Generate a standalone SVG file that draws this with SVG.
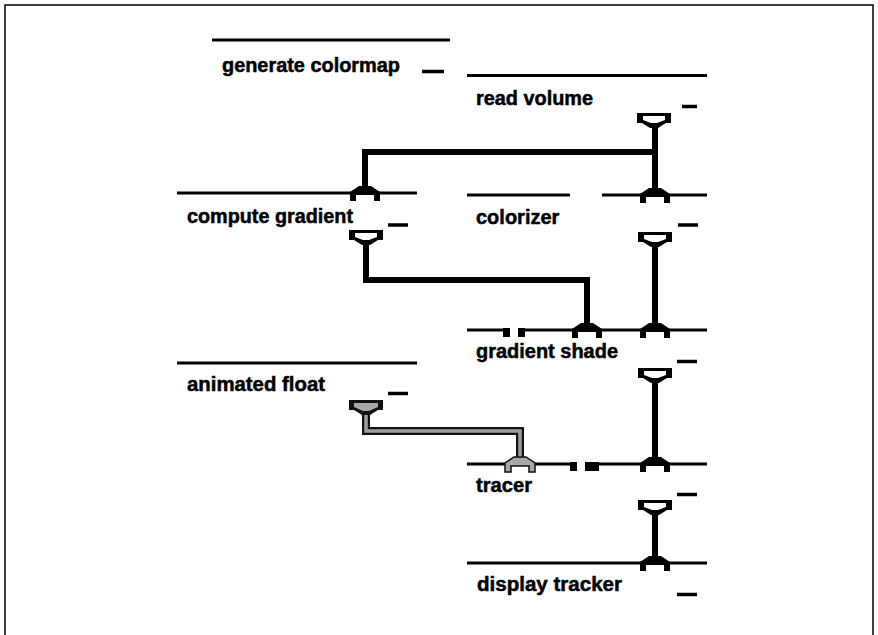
<svg xmlns="http://www.w3.org/2000/svg" xmlns:xlink="http://www.w3.org/1999/xlink" width="878" height="635" viewBox="0 0 878 635">
<style>
.bg{fill:#ffffff}
.frame{fill:none;stroke:#000;stroke-width:1.5}
.nl{stroke:#000;stroke-width:3;fill:none}
.lbl{font-family:"Liberation Sans",Arial,sans-serif;font-weight:bold;font-size:20px;fill:#000;stroke:#000;stroke-width:0.5}
.dash{stroke:#000;stroke-width:3.5}
.w{fill:none;stroke:#000;stroke-width:6}
.wg{fill:none;stroke:#111;stroke-width:8}
.wgi{fill:none;stroke:#a0a0a0;stroke-width:3.5}
.blk{fill:#000}
</style>
<defs>
<g id="inport">
<path class="blk" d="M-15,8 V-1 L-6,-7 H6 L15,-1 V8 H9 V2 H-9 V8 Z"/>
</g>
<g id="inportg">
<path d="M-15,8 V-1 L-6,-7 H6 L15,-1 V8 H9 V2 H-9 V8 Z" fill="#a8a8a8" stroke="#111" stroke-width="1.5"/>
</g>
<g id="outport">
<path class="blk" d="M-17,0 H17 V10 H12 L4,15 H-4 L-12,10 H-17 Z"/>
<path fill="#fff" d="M-11,3 H11 V7 L3,10 H-3 L-11,7 Z"/>
</g>
<g id="outportg">
<path d="M-17,0 H17 V10 H12 L4,15 H-4 L-12,10 H-17 Z" fill="#111"/>
<path fill="#a8a8a8" d="M-12,3 H12 V7 L3,11 H-3 L-12,7 Z"/>
</g>
</defs>
<rect class="bg" x="0" y="0" width="878" height="635"/>
<path class="frame" d="M5,635 V5 H873 V635"/>

<g id="connectors">
<path class="w" d="M655,128 V189"/>
<path class="w" d="M655,152 H365 V187"/>
<path class="w" d="M366,245 V280 H587 V323"/>
<path class="w" d="M655,247 V323"/>
<path class="w" d="M655,383 V457"/>
<path class="wg" d="M366,414 V431 H520 V457"/>
<path class="wgi" d="M366,414 V431 H520 V457"/>
<path class="w" d="M655,515 V556"/>
</g>

<g id="generate-colormap">
<line class="nl" x1="212" y1="40" x2="450" y2="40"/>
<text class="lbl" x="222" y="72" textLength="178" lengthAdjust="spacingAndGlyphs">generate colormap</text>
<line class="dash" x1="422" y1="71.5" x2="444" y2="71.5"/>
</g>

<g id="read-volume">
<line class="nl" x1="467" y1="75.5" x2="707" y2="75.5"/>
<text class="lbl" x="476" y="105" textLength="117" lengthAdjust="spacingAndGlyphs">read volume</text>
<line class="dash" x1="682" y1="106.5" x2="697" y2="106.5"/>
<use xlink:href="#outport" x="654" y="113"/>
</g>

<g id="compute-gradient">
<line class="nl" x1="177" y1="193" x2="417" y2="193"/>
<use xlink:href="#inport" x="365" y="193"/>
<text class="lbl" x="187" y="223" textLength="166" lengthAdjust="spacingAndGlyphs">compute gradient</text>
<line class="dash" x1="388" y1="225" x2="408" y2="225"/>
<use xlink:href="#outport" x="366" y="230"/>
</g>

<g id="colorizer">
<line class="nl" x1="467" y1="195" x2="570" y2="195"/>
<line class="nl" x1="602" y1="195" x2="707" y2="195"/>
<use xlink:href="#inport" x="655" y="195"/>
<text class="lbl" x="476" y="224">colorizer</text>
<line class="dash" x1="678" y1="225" x2="698" y2="225"/>
<use xlink:href="#outport" x="655" y="232"/>
</g>

<g id="gradient-shade">
<line class="nl" x1="467" y1="330" x2="510" y2="330"/>
<line class="nl" x1="518" y1="330" x2="707" y2="330"/>
<rect class="blk" x="503" y="328" width="7" height="9"/>
<rect class="blk" x="518" y="328" width="7" height="9"/>
<use xlink:href="#inport" x="587" y="330"/>
<use xlink:href="#inport" x="655" y="330"/>
<text class="lbl" x="476" y="358" textLength="142" lengthAdjust="spacingAndGlyphs">gradient shade</text>
<line class="dash" x1="677" y1="361.5" x2="697" y2="361.5"/>
<use xlink:href="#outport" x="655" y="368"/>
</g>

<g id="animated-float">
<line class="nl" x1="177" y1="363" x2="417" y2="363"/>
<text class="lbl" x="187" y="391" textLength="138" lengthAdjust="spacingAndGlyphs">animated float</text>
<line class="dash" x1="388" y1="393.5" x2="408" y2="393.5"/>
<use xlink:href="#outportg" x="366" y="400"/>
</g>

<g id="tracer">
<line class="nl" x1="467" y1="464" x2="577" y2="464"/>
<line class="nl" x1="585" y1="464" x2="707" y2="464"/>
<rect class="blk" x="570" y="462" width="7" height="9"/>
<rect class="blk" x="585" y="462" width="14" height="9"/>
<use xlink:href="#inportg" x="520" y="464"/>
<use xlink:href="#inport" x="655" y="464"/>
<text class="lbl" x="476" y="492" textLength="56" lengthAdjust="spacingAndGlyphs">tracer</text>
<line class="dash" x1="677" y1="494.5" x2="697" y2="494.5"/>
<use xlink:href="#outport" x="655" y="500"/>
</g>

<g id="display-tracker">
<line class="nl" x1="467" y1="563" x2="707" y2="563"/>
<use xlink:href="#inport" x="655" y="563"/>
<text class="lbl" x="477" y="591" textLength="145" lengthAdjust="spacingAndGlyphs">display tracker</text>
<line class="dash" x1="677" y1="594.5" x2="697" y2="594.5"/>
</g>
</svg>
